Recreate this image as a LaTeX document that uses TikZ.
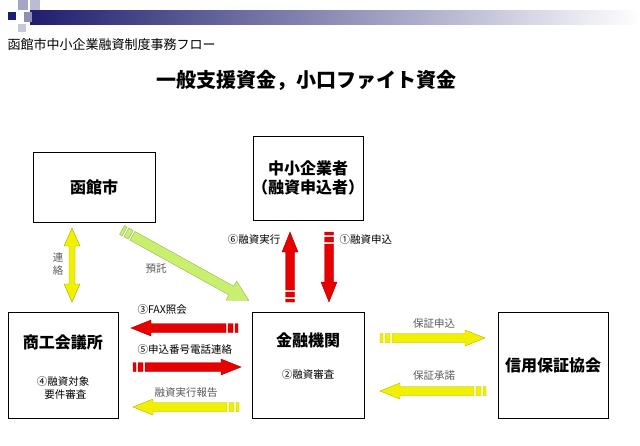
\documentclass[tikz,border=0pt]{standalone}
\usepackage{fontspec}
\setmainfont{Noto Sans CJK JP}
\usetikzlibrary{positioning}
\definecolor{navy}{RGB}{30,30,110}
\definecolor{arrred}{RGB}{230,0,0}
\definecolor{arryel}{RGB}{240,240,0}
\definecolor{arrgrn}{RGB}{200,240,110}
\tikzset{
  box/.style={draw, line width=1pt, minimum width=112pt, minimum height=84pt, inner sep=0pt},
  boxtext/.style={font=\bfseries\fontsize{16}{19}\selectfont, align=center},
  lbl/.style={font=\fontsize{10.5}{13}\selectfont, align=center},
  lblgray/.style={lbl, text=black!65},
}
% striped block arrow: colour, x, y, angle, length, half body width, half head width
\newcommand\striparrow[7]{
  \begin{scope}[shift={(#2,#3)}, rotate=#4]
    \filldraw[fill=#1, draw=#1!75!black, line width=0.4pt]
      (0,-#6) rectangle (3,#6)
      (5,-#6) rectangle (10,#6)
      (12,-#6) -- (#5-20,-#6) -- (#5-20,-#7) -- (#5,0) -- (#5-20,#7) -- (#5-20,#6) -- (12,#6) -- cycle;
  \end{scope}
}
\begin{document}
\begin{tikzpicture}[x=1pt, y=-1pt]
  \useasboundingbox (0,0) rectangle (640,445);
  % header bar
  \shade[left color=navy, right color=white] (30,10) rectangle (640,24);
  \fill[navy] (8,12) rectangle (16,20);
  \fill[navy!40] (18,0) rectangle (28,10);
  \fill[navy!30] (30,0) rectangle (40,10);
  \fill[navy!50] (24,12) rectangle (32,22);
  \fill[navy!25] (18,24) rectangle (26,32);
  \node[anchor=west, font=\fontsize{13}{15}\selectfont] (subtitle) at (4,45) {函館市中小企業融資制度事務フロー};
  \node[font=\bfseries\fontsize{20}{24}\selectfont] (title) at (306,80) {一般支援資金，小口ファイト資金};

  % boxes
  \node[box, minimum width=122pt, minimum height=70pt] (city) at (94,187) {};
  \node[boxtext] at (city) {函館市};
  \node[box, minimum width=110pt] (sme) at (308,178) {};
  \node[boxtext] at (sme) {中小企業者\\（融資申込者）};
  \node[box, minimum width=110pt, minimum height=106pt] (chamber) at (63,365) {};
  \node[boxtext] at (63,342) {商工会議所};
  \node[lbl] at (63,388) {④融資対象\\\ \ 要件審査};
  \node[box, minimum width=112pt, minimum height=106pt] (bank) at (308,365) {};
  \node[boxtext] at (308,340) {金融機関};
  \node[lbl] at (308,375) {②融資審査};
  \node[box, minimum width=110pt, minimum height=106pt] (guar) at (553,365) {};
  \node[boxtext] at (guar) {信用保証協会};

  % arrows
  \filldraw[fill=arryel, draw=arryel!70!black, line width=0.4pt]
    (72,228) -- (80,246) -- (75,246) -- (75,284) -- (80,284) -- (72,302)
    -- (64,284) -- (69,284) -- (69,246) -- (64,246) -- cycle;
  \node[lblgray] at (58,264) {連\\絡};
  \striparrow{arrgrn}{122}{230}{-29}{145}{5}{11}
  \node[lblgray] at (156,269) {預託};
  \striparrow{arrred}{290}{302}{90}{70}{4.5}{8}
  \node[lbl, anchor=east] at (284,240) {⑥融資実行};
  \striparrow{arrred}{329}{232}{-90}{70}{4.5}{8}
  \node[lbl, anchor=west] at (336,240) {①融資申込};
  \striparrow{arrred}{238}{328}{180}{107}{4.5}{8}
  \node[lbl, anchor=west] at (134,310) {③FAX照会};
  \striparrow{arrred}{133}{367}{0}{108}{4.5}{8}
  \node[lbl, anchor=west] at (134,350) {⑤申込番号電話連絡};
  \striparrow{arryel}{239}{407}{180}{106}{4.5}{8}
  \node[lblgray] at (186,393) {融資実行報告};
  \striparrow{arryel}{380}{338}{0}{105}{4.5}{8}
  \node[lblgray] at (434,324) {保証申込};
  \striparrow{arryel}{486}{391}{180}{106}{4.5}{8}
  \node[lblgray] at (434,376) {保証承諾};
\end{tikzpicture}
\end{document}
